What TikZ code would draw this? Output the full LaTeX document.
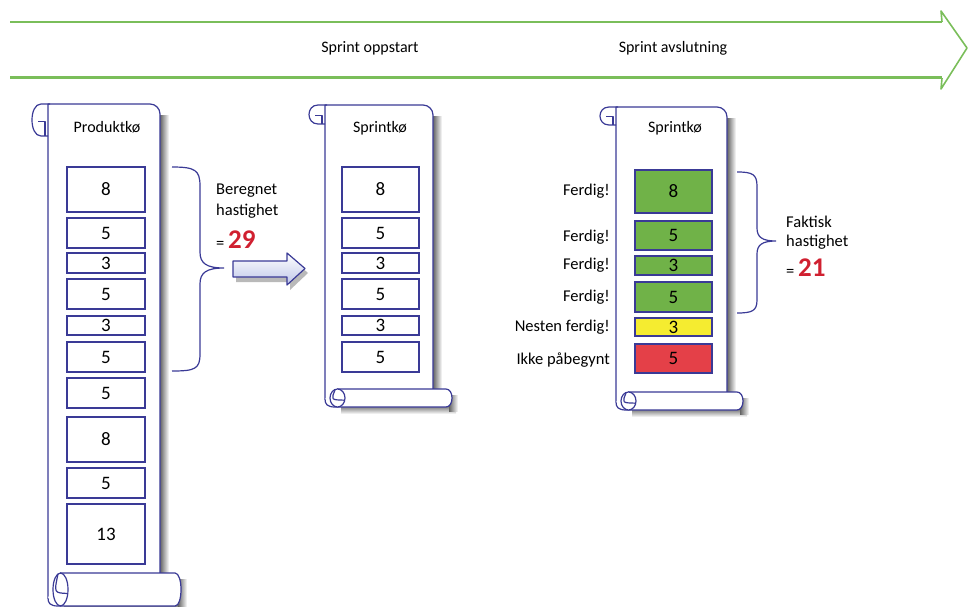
\documentclass[tikz,border=0pt]{standalone}
\usepackage{fontspec}
\setmainfont{Carlito}
\definecolor{scrollblue}{RGB}{58,58,150}
\definecolor{arrowgreen}{RGB}{122,190,90}
\definecolor{donegreen}{RGB}{112,178,72}
\definecolor{almostyellow}{RGB}{245,236,48}
\definecolor{notred}{RGB}{228,64,72}
\definecolor{numred}{RGB}{208,32,48}
\definecolor{shadowgray}{RGB}{100,100,100}
\definecolor{arrowfill}{RGB}{190,198,232}
% #1 L, #2 R, #3 T, #4 B, #5 curl height, #6 roll height, #7 roll right end
\newcommand\drawscroll[7]{%
  \shade[left color=shadowgray, right color=white] ({#2},{#3+12}) rectangle ({#2+9},{#4});
  \shade[top color=shadowgray, bottom color=white] ({#1+16},{#4+#6-2}) rectangle ({#7+3},{#4+#6+7});
  \shade[left color=shadowgray, right color=white] ({#7-4},{#4+6}) rectangle ({#7+5},{#4+#6+4});
  \filldraw[scrollline, fill=white] ({#1},{#4+#6-8}) -- ({#1},{#3}) [rounded corners=10pt] -- ({#2},{#3}) [sharp corners] -- ({#2},{#4+2});
  \draw[scrollline] ({#1+2},{#3}) -- ({#1-7},{#3}) .. controls ({#1-19},{#3}) and ({#1-19},{#3+#5}) .. ({#1-7},{#3+#5}) -- ({#1},{#3+#5});
  \draw[scrollline] ({#1-10},{#3+0.55*#5}) -- ({#1-3},{#3+0.55*#5}) -- ({#1-3},{#3+#5});
  \filldraw[scrollline, fill=white] ({#1+12},{#4}) -- ({#7-7},{#4}) .. controls ({#7+1},{#4}) and ({#7+1},{#4+#6}) .. ({#7-7},{#4+#6}) -- ({#1+10},{#4+#6}) .. controls ({#1+2},{#4+#6}) and ({#1},{#4+#6-3}) .. ({#1},{#4+#6-8});
  \filldraw[scrollline, fill=white] ({#1+12.5},{#4+#6/2}) ellipse [x radius=7.5, y radius={#6/2}];
  \draw[scrollline] ({#1+10},{#4+1}) .. controls ({#1+6},{#4+0.6*#6}) .. ({#1+19},{#4+0.62*#6});
}
\tikzset{
  scrollline/.style={draw=scrollblue, line width=1.2pt, line join=round},
  box/.style={draw=scrollblue, line width=1.1pt, fill=white, inner sep=0pt, font=\fontsize{19}{19}\selectfont},
  title/.style={font=\fontsize{16}{16}\selectfont, inner sep=0pt},
  lbl/.style={font=\fontsize{16.5}{16.5}\selectfont, inner sep=0pt, anchor=east},
  info/.style={font=\fontsize{16.5}{16.5}\selectfont, inner sep=0pt, anchor=west},
  brace/.style={draw=scrollblue, line width=1.2pt},
  timeline/.style={draw=arrowgreen, line width=2.5pt},
}
\newcommand\bignum[1]{\textcolor{numred}{\fontsize{27}{27}\selectfont\bfseries #1}}
\begin{document}
\begin{tikzpicture}[x=1pt, y=-1pt]
\useasboundingbox (0,0) rectangle (968,607);
% timeline arrow
\coordinate (tl1) at (10,22);
\coordinate (tl2) at (942,22);
\coordinate (bl1) at (10,78);
\coordinate (bl2) at (942,78);
\coordinate (ht) at (941,11);
\coordinate (tip) at (967,48);
\coordinate (hb) at (941,89);
\draw[timeline, line width=2pt] (tl1) -- (tl2);
\draw[timeline, line width=3pt] (bl1) -- (bl2);
\draw[draw=arrowgreen, line width=1.6pt, line join=round] (tl2) -- (ht) -- (tip) -- (hb) -- (bl2);
\node[title] (start) at (370,48) {Sprint oppstart};
\node[title] (end) at (673,48) {Sprint avslutning};

% scrolls
\drawscroll{48}{160}{104}{573}{32}{33}{182}
\drawscroll{325}{433}{105}{389}{19}{18}{453}
\drawscroll{616}{727}{107}{392}{18}{18}{744}

\node[title] (t1) at (107,127) {Produktkø};
\node[title] (t2) at (380,128) {Sprintkø};
\node[title] (t3) at (675,128) {Sprintkø};

% product backlog boxes (x 67-145)
\node[box, minimum width=78pt, minimum height=45pt] (p1) at (106,189.5) {8};
\node[box, minimum width=78pt, minimum height=30pt] (p2) at (106,233) {5};
\node[box, minimum width=78pt, minimum height=20pt] (p3) at (106,263) {3};
\node[box, minimum width=78pt, minimum height=30pt] (p4) at (106,294) {5};
\node[box, minimum width=78pt, minimum height=19pt] (p5) at (106,325.5) {3};
\node[box, minimum width=78pt, minimum height=30pt] (p6) at (106,357) {5};
\node[box, minimum width=78pt, minimum height=30pt] (p7) at (106,393) {5};
\node[box, minimum width=78pt, minimum height=45pt] (p8) at (106,439.5) {8};
\node[box, minimum width=78pt, minimum height=30pt] (p9) at (106,483) {5};
\node[box, minimum width=78pt, minimum height=60pt] (p10) at (106,534) {13};

% sprint backlog boxes (x 342-419)
\node[box, minimum width=77pt, minimum height=45pt] (s1) at (380.5,189.5) {8};
\node[box, minimum width=77pt, minimum height=30pt] (s2) at (380.5,233) {5};
\node[box, minimum width=77pt, minimum height=20pt] (s3) at (380.5,263) {3};
\node[box, minimum width=77pt, minimum height=30pt] (s4) at (380.5,294) {5};
\node[box, minimum width=77pt, minimum height=19pt] (s5) at (380.5,325.5) {3};
\node[box, minimum width=77pt, minimum height=30pt] (s6) at (380.5,357) {5};

% finished sprint boxes (x 635-712)
\node[box, fill=donegreen, minimum width=77pt, minimum height=43pt] (f1) at (673.5,191.5) {8};
\node[box, fill=donegreen, minimum width=77pt, minimum height=29pt] (f2) at (673.5,235.5) {5};
\node[box, fill=donegreen, minimum width=77pt, minimum height=19pt] (f3) at (673.5,265.5) {3};
\node[box, fill=donegreen, minimum width=77pt, minimum height=30pt] (f4) at (673.5,297) {5};
\node[box, fill=almostyellow, minimum width=77pt, minimum height=18pt] (f5) at (673.5,327) {3};
\node[box, fill=notred, minimum width=77pt, minimum height=29pt] (f6) at (673.5,358.5) {5};

\node[lbl] (l1) at (610,191) {Ferdig!};
\node[lbl] (l2) at (610,237) {Ferdig!};
\node[lbl] (l3) at (610,265) {Ferdig!};
\node[lbl] (l4) at (610,297) {Ferdig!};
\node[lbl] (l5) at (610,327) {Nesten ferdig!};
\node[lbl] (l6) at (610,360) {Ikke påbegynt};

% brace 1
\coordinate (b1top) at (172,167);
\coordinate (b1tip) at (224,268);
\coordinate (b1bot) at (172,371);
\draw[brace] (b1top) .. controls (195,167) and (200,170) .. (200,186) -- (200,252)
  .. controls (200,263) and (206,268) .. (b1tip)
  .. controls (206,268) and (200,273) .. (200,284) -- (200,354)
  .. controls (200,369) and (195,371) .. (b1bot);
\node[info] (e1) at (216,191) {Beregnet};
\node[info] (e2) at (216,211) {hastighet};
\node[info, anchor=base west] (e3) at (216,248) {= \bignum{29}};

% fat arrow
\coordinate (fa) at (233,269);
\fill[gray!55] (236,265) -- (290,265) -- (290,257) -- (308,273) -- (290,290) -- (290,282) -- (236,282) -- cycle;
\shade[top color=white, bottom color=arrowfill, draw=scrollblue, line width=1.2pt, line join=round]
  (fa) |- (287,261) -- (287,253) -- (305,268.5) -- (287,285) -- (287,277) -| (fa);

% brace 2
\coordinate (b2top) at (737,172);
\coordinate (b2tip) at (776,241);
\coordinate (b2bot) at (737,313);
\draw[brace] (b2top) .. controls (752,172) and (757,174) .. (757,186) -- (757,228)
  .. controls (757,237) and (762,241) .. (b2tip)
  .. controls (762,241) and (757,245) .. (757,254) -- (757,300)
  .. controls (757,311) and (752,313) .. (b2bot);
\node[info] (a1) at (786,222) {Faktisk};
\node[info] (a2) at (786,242) {hastighet};
\node[info, anchor=base west] (a3) at (786,276) {= \bignum{21}};
\end{tikzpicture}
\end{document}
